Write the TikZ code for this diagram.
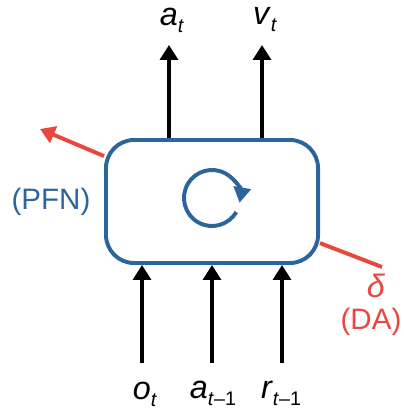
\documentclass[tikz,border=0pt]{standalone}
\usepackage{fontspec}
\setmainfont{Liberation Sans}
\usetikzlibrary{arrows.meta}
\definecolor{rnnblue}{HTML}{2C659C}
\definecolor{darred}{HTML}{E9463E}
\newcommand{\varsub}[2]{\textit{#1}\raisebox{-0.22em}{\fontsize{14}{14}\selectfont #2}}

\begin{document}
\begin{tikzpicture}[x=0.025cm,y=-0.025cm,
        lbl/.style={font=\fontsize{23}{26}\selectfont,inner sep=0pt},
        tag/.style={font=\fontsize{21}{24}\selectfont,inner sep=0pt},
        arr/.style={line width=2.8pt,-{Triangle[length=10.5pt,width=12.5pt]}},
        daline/.style={darred,line width=2.8pt}]
        \useasboundingbox (0,0) rectangle (403,411);
        \node[draw=rnnblue,line width=2.8pt,rounded corners=20pt,
          minimum width=5.3cm,minimum height=3.075cm] (rnn) at (212,201.5) {};
        % recurrence
        \coordinate (loop) at (212,198);
        \draw[rnnblue,line width=2.8pt,-{Triangle[length=11pt,width=12pt]}]
          (loop) ++(30:28) arc[start angle=30,end angle=370,radius=28];
        % outputs
        \node[lbl] (at) at (172,20) {\varsub{a}{\textit{t}}};
        \node[lbl] (vt) at (265,20) {\varsub{v}{\textit{t}}};
        \coordinate (atTip) at (169,45);
        \coordinate (vtTip) at (262,45);
        \foreach \w in {atTip,vtTip}
          \draw[arr] (rnn.north -| \w) -- (\w);
        % inputs
        \node[lbl] (ot) at (145,394) {\varsub{o}{\textit{t}}};
        \node[lbl] (atm) at (213,393) {\varsub{a}{\textit{t}--1}};
        \node[lbl] (rtm) at (281,393) {\varsub{r}{\textit{t}--1}};
        \coordinate (otTail) at (142,363);
        \coordinate (atmTail) at (212,363);
        \coordinate (rtmTail) at (282,363);
        \foreach \w in {otTail,atmTail,rtmTail}
          \draw[arr] (\w) -- (rnn.south -| \w);
        % PFN out, DA in
        \coordinate (pfnTip) at (40,129);
        \coordinate (daEnd) at (382,267);
        \draw[daline,-{Triangle[length=10.5pt,width=12.5pt]}] (rnn) -- (pfnTip);
        \draw[daline] (rnn) -- (daEnd);
        \node[tag,rnnblue] (pfn) at (51,202) {(PFN)};
        \node[tag,darred,font=\fontsize{23}{26}\selectfont] (delta) at (376,286) {\textit{δ}};
        \node[tag,darred] (da) at (371,322) {(DA)};
      \end{tikzpicture}
\end{document}
